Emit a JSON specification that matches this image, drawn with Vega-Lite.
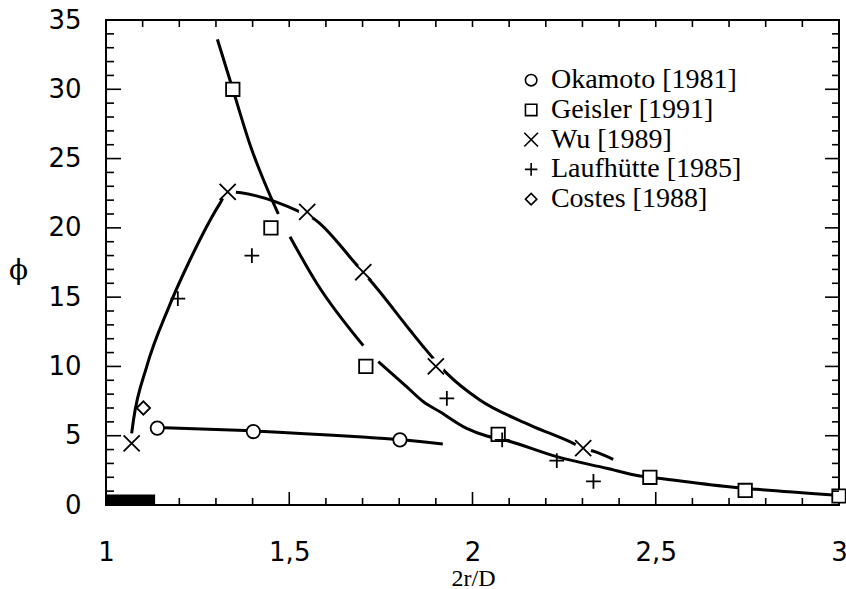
{
  "$schema": "https://vega.github.io/schema/vega-lite/v6.json",
  "width": 733,
  "height": 485,
  "autosize": {"type": "none"},
  "padding": {"left": 106, "top": 20, "right": 7, "bottom": 84},
  "background": "white",
  "config": {
    "view": {"stroke": "black", "strokeWidth": 2},
    "axis": {"grid": false, "domain": false, "ticks": false, "labelColor": "black", "titleColor": "black", "labelOverlap": false, "labelFlush": false}
  },
  "resolve": {"axis": {"x": "independent", "y": "independent"}},
  "datasets": {
    "pts": [
      {"series": "Okamoto [1981]", "x": 1.140, "y": 5.55},
      {"series": "Okamoto [1981]", "x": 1.402, "y": 5.3},
      {"series": "Okamoto [1981]", "x": 1.802, "y": 4.7},
      {"series": "Geisler [1991]", "x": 1.346, "y": 30.0},
      {"series": "Geisler [1991]", "x": 1.450, "y": 20.0},
      {"series": "Geisler [1991]", "x": 1.709, "y": 10.0},
      {"series": "Geisler [1991]", "x": 2.070, "y": 5.1},
      {"series": "Geisler [1991]", "x": 2.484, "y": 2.0},
      {"series": "Geisler [1991]", "x": 2.744, "y": 1.05},
      {"series": "Geisler [1991]", "x": 3.0, "y": 0.65},
      {"series": "Wu [1989]", "x": 1.070, "y": 4.45},
      {"series": "Wu [1989]", "x": 1.332, "y": 22.6},
      {"series": "Wu [1989]", "x": 1.549, "y": 21.15},
      {"series": "Wu [1989]", "x": 1.702, "y": 16.8},
      {"series": "Wu [1989]", "x": 1.900, "y": 10.0},
      {"series": "Wu [1989]", "x": 2.302, "y": 4.1},
      {"series": "Laufhütte [1985]", "x": 1.196, "y": 14.9},
      {"series": "Laufhütte [1985]", "x": 1.398, "y": 18.0},
      {"series": "Laufhütte [1985]", "x": 1.930, "y": 7.7},
      {"series": "Laufhütte [1985]", "x": 2.081, "y": 4.7},
      {"series": "Laufhütte [1985]", "x": 2.230, "y": 3.2},
      {"series": "Laufhütte [1985]", "x": 2.330, "y": 1.7},
      {"series": "Costes [1988]", "x": 1.102, "y": 7.0}
    ],
    "legend": [
      {"series": "Okamoto [1981]"},
      {"series": "Geisler [1991]"},
      {"series": "Wu [1989]"},
      {"series": "Laufhütte [1985]"},
      {"series": "Costes [1988]"}
    ],
    "curves": [
      {"curve": "ok", "x": 1.14, "y": 5.6},
      {"curve": "ok", "x": 1.40, "y": 5.35},
      {"curve": "ok", "x": 1.70, "y": 4.9},
      {"curve": "ok", "x": 1.80, "y": 4.72},
      {"curve": "ok", "x": 1.919, "y": 4.4},
      {"curve": "g1", "x": 1.304, "y": 33.6},
      {"curve": "g1", "x": 1.346, "y": 30.0},
      {"curve": "g1", "x": 1.393, "y": 26.0},
      {"curve": "g1", "x": 1.470, "y": 21.0},
      {"curve": "g2", "x": 1.502, "y": 19.36},
      {"curve": "g2", "x": 1.575, "y": 16.0},
      {"curve": "g2", "x": 1.702, "y": 11.5},
      {"curve": "g3", "x": 1.743, "y": 10.34},
      {"curve": "g3", "x": 1.820, "y": 8.54},
      {"curve": "g3", "x": 1.866, "y": 7.45},
      {"curve": "g3", "x": 1.911, "y": 6.73},
      {"curve": "g3", "x": 1.984, "y": 5.53},
      {"curve": "g3", "x": 2.039, "y": 4.98},
      {"curve": "g3", "x": 2.088, "y": 4.69},
      {"curve": "g3", "x": 2.23, "y": 3.49},
      {"curve": "g3", "x": 2.366, "y": 2.65},
      {"curve": "g3", "x": 2.457, "y": 2.09},
      {"curve": "g3", "x": 2.507, "y": 1.93},
      {"curve": "g3", "x": 2.712, "y": 1.28},
      {"curve": "g3", "x": 2.775, "y": 1.13},
      {"curve": "g3", "x": 2.985, "y": 0.72},
      {"curve": "wu", "x": 1.070, "y": 5.17},
      {"curve": "wu", "x": 1.075, "y": 6.13},
      {"curve": "wu", "x": 1.111, "y": 9.98},
      {"curve": "wu", "x": 1.170, "y": 14.19},
      {"curve": "wu", "x": 1.229, "y": 17.68},
      {"curve": "wu", "x": 1.311, "y": 21.77},
      {"curve": "wu", "x": 1.332, "y": 22.6},
      {"curve": "wu", "x": 1.529, "y": 21.16},
      {"curve": "wu", "x": 1.566, "y": 20.68},
      {"curve": "wu", "x": 1.679, "y": 17.48},
      {"curve": "wu", "x": 1.734, "y": 15.8},
      {"curve": "wu", "x": 1.829, "y": 12.63},
      {"curve": "wu", "x": 1.866, "y": 11.42},
      {"curve": "wu", "x": 1.930, "y": 9.5},
      {"curve": "wu", "x": 2.020, "y": 7.58},
      {"curve": "wu", "x": 2.157, "y": 5.77},
      {"curve": "wu", "x": 2.275, "y": 4.45},
      {"curve": "wu", "x": 2.302, "y": 4.1},
      {"curve": "wu", "x": 2.334, "y": 3.85},
      {"curve": "wu", "x": 2.384, "y": 3.3}
    ],
    "bar": [
      {"x": 1.0, "x2": 1.134, "y": 0, "y2": 0.75}
    ],
    "xtk": [
      {"v": 1.1, "k": "minor"}, {"v": 1.2, "k": "minor"}, {"v": 1.3, "k": "minor"}, {"v": 1.4, "k": "minor"},
      {"v": 1.5, "k": "major"}, {"v": 1.6, "k": "minor"}, {"v": 1.7, "k": "minor"}, {"v": 1.8, "k": "minor"},
      {"v": 1.9, "k": "minor"}, {"v": 2.0, "k": "major"}, {"v": 2.1, "k": "minor"}, {"v": 2.2, "k": "minor"},
      {"v": 2.3, "k": "minor"}, {"v": 2.4, "k": "minor"}, {"v": 2.5, "k": "major"}, {"v": 2.6, "k": "minor"},
      {"v": 2.7, "k": "minor"}, {"v": 2.8, "k": "minor"}, {"v": 2.9, "k": "minor"}
    ],
    "ytk": [
      {"v": 1, "k": "minor"}, {"v": 2, "k": "minor"}, {"v": 3, "k": "minor"}, {"v": 4, "k": "minor"}, {"v": 5, "k": "major"},
      {"v": 6, "k": "minor"}, {"v": 7, "k": "minor"}, {"v": 8, "k": "minor"}, {"v": 9, "k": "minor"}, {"v": 10, "k": "major"},
      {"v": 11, "k": "minor"}, {"v": 12, "k": "minor"}, {"v": 13, "k": "minor"}, {"v": 14, "k": "minor"}, {"v": 15, "k": "major"},
      {"v": 16, "k": "minor"}, {"v": 17, "k": "minor"}, {"v": 18, "k": "minor"}, {"v": 19, "k": "minor"}, {"v": 20, "k": "major"},
      {"v": 21, "k": "minor"}, {"v": 22, "k": "minor"}, {"v": 23, "k": "minor"}, {"v": 24, "k": "minor"}, {"v": 25, "k": "major"},
      {"v": 26, "k": "minor"}, {"v": 27, "k": "minor"}, {"v": 28, "k": "minor"}, {"v": 29, "k": "minor"}, {"v": 30, "k": "major"},
      {"v": 31, "k": "minor"}, {"v": 32, "k": "minor"}, {"v": 33, "k": "minor"}, {"v": 34, "k": "minor"}
    ]
  },
  "layer": [
    {
      "data": {"name": "bar"},
      "mark": {"type": "rect", "color": "black"},
      "encoding": {
        "x": {"field": "x", "type": "quantitative", "scale": {"domain": [1, 3], "nice": false, "zero": false},
          "axis": {"orient": "bottom", "values": [1, 1.5, 2, 2.5, 3], "labelPadding": 47, "labelBaseline": "middle",
            "labelFont": "DejaVu Sans", "labelFontSize": 26, "labelExpr": "replace(format(datum.value, '~g'), '.', ',')",
            "title": "2r/D", "titleFont": "Liberation Serif", "titleFontSize": 24, "titleFontWeight": "normal", "titleX": 367, "titleY": 73, "titleBaseline": "middle"}},
        "x2": {"field": "x2"},
        "y": {"field": "y", "type": "quantitative", "scale": {"domain": [0, 35], "nice": false, "zero": false},
          "axis": {"orient": "left", "values": [0, 5, 10, 15, 20, 25, 30, 35], "labelPadding": 25,
            "labelFont": "DejaVu Sans", "labelFontSize": 26,
            "title": "ϕ", "titleAngle": 0, "titleX": -88, "titleY": 250, "titleFont": "DejaVu Serif", "titleFontSize": 28, "titleFontWeight": "normal", "titleAlign": "center", "titleBaseline": "middle"}},
        "y2": {"field": "y2"}
      }
    },
    {
      "data": {"name": "curves"},
      "mark": {"type": "line", "interpolate": "monotone", "strokeWidth": 3, "color": "black"},
      "encoding": {
        "x": {"field": "x", "type": "quantitative", "axis": null},
        "y": {"field": "y", "type": "quantitative", "axis": null},
        "detail": {"field": "curve"}
      }
    },
    {
      "data": {"name": "pts"},
      "transform": [{"filter": "datum.series == 'Wu [1989]'"}],
      "mark": {"type": "point", "shape": "circle", "filled": true, "color": "white", "opacity": 1, "size": 280},
      "encoding": {
        "x": {"field": "x", "type": "quantitative", "axis": null},
        "y": {"field": "y", "type": "quantitative", "axis": null}
      }
    },
    {
      "data": {"name": "pts"},
      "mark": {"type": "point", "filled": false, "fill": "white", "fillOpacity": 1, "color": "black", "strokeWidth": 1.8, "opacity": 1, "size": 180},
      "encoding": {
        "x": {"field": "x", "type": "quantitative", "axis": null},
        "y": {"field": "y", "type": "quantitative", "axis": null},
        "shape": {"field": "series", "type": "nominal",
          "scale": {"domain": ["Okamoto [1981]", "Geisler [1991]", "Wu [1989]", "Laufhütte [1985]", "Costes [1988]"],
            "range": ["circle", "square", "M-1.2,-1.2L1.2,1.2M-1.2,1.2L1.2,-1.2", "M0,-1.1L0,1.1M-1.1,0L1.1,0", "diamond"]},
          "legend": null}
      }
    },
    {
      "data": {"name": "legend"},
      "mark": {"type": "point", "filled": false, "fill": "white", "fillOpacity": 1, "color": "black", "strokeWidth": 1.6, "opacity": 1, "size": 130},
      "encoding": {
        "x": {"datum": 2.16, "type": "quantitative", "axis": null},
        "y": {"datum": 30.66, "type": "quantitative", "axis": null},
        "yOffset": {"field": "series", "type": "nominal", "sort": null, "scale": {"type": "point", "range": [0, 119], "padding": 0}},
        "shape": {"field": "series", "type": "nominal", "legend": null}
      }
    },
    {
      "data": {"name": "legend"},
      "mark": {"type": "text", "align": "left", "baseline": "middle", "font": "Liberation Serif", "fontSize": 28, "color": "black"},
      "encoding": {
        "x": {"datum": 2.214, "type": "quantitative", "axis": null},
        "y": {"datum": 30.66, "type": "quantitative", "axis": null},
        "yOffset": {"field": "series", "type": "nominal", "sort": null, "scale": {"type": "point", "range": [0, 119], "padding": 0}},
        "text": {"field": "series"}
      }
    },
    {
      "data": {"name": "xtk"},
      "mark": {"type": "point", "shape": "M0,0L0,-2", "filled": false, "color": "black", "strokeWidth": 1.6, "opacity": 1},
      "encoding": {
        "x": {"field": "v", "type": "quantitative", "axis": null},
        "y": {"datum": 0, "type": "quantitative", "axis": null},
        "size": {"condition": {"test": "datum.k == 'major'", "value": 169}, "value": 49}
      }
    },
    {
      "data": {"name": "xtk"},
      "mark": {"type": "point", "shape": "M0,0L0,2", "filled": false, "color": "black", "strokeWidth": 1.6, "opacity": 1, "size": 49},
      "encoding": {
        "x": {"field": "v", "type": "quantitative", "axis": null},
        "y": {"datum": 35, "type": "quantitative", "axis": null}
      }
    },
    {
      "data": {"name": "ytk"},
      "mark": {"type": "point", "shape": "M0,0L2,0", "filled": false, "color": "black", "strokeWidth": 1.6, "opacity": 1},
      "encoding": {
        "y": {"field": "v", "type": "quantitative", "axis": null},
        "x": {"datum": 1, "type": "quantitative", "axis": null},
        "size": {"condition": {"test": "datum.k == 'major'", "value": 225}, "value": 64}
      }
    },
    {
      "data": {"name": "ytk"},
      "mark": {"type": "point", "shape": "M0,0L-2,0", "filled": false, "color": "black", "strokeWidth": 1.6, "opacity": 1},
      "encoding": {
        "y": {"field": "v", "type": "quantitative", "axis": null},
        "x": {"datum": 3, "type": "quantitative", "axis": null},
        "size": {"condition": {"test": "datum.k == 'major'", "value": 196}, "value": 49}
      }
    }
  ]
}
